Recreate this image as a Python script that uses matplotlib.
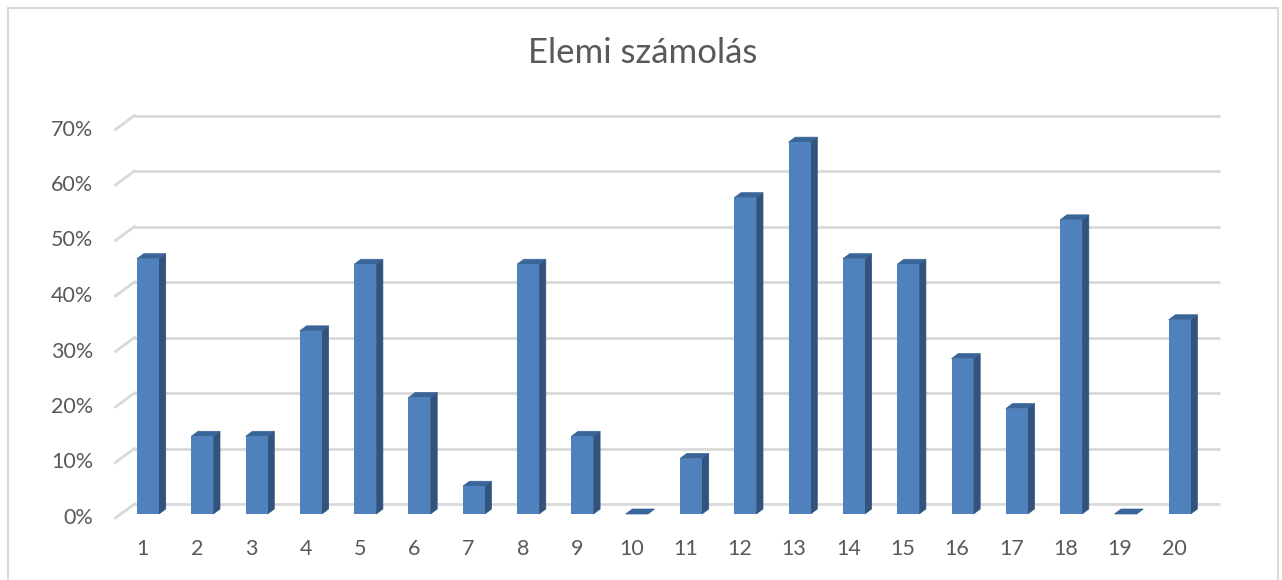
import matplotlib.pyplot as plt
from matplotlib.patches import Polygon, Rectangle

categories = [str(i) for i in range(1, 21)]
values = [46, 14, 14, 33, 45, 21, 5, 45, 14, 0, 10, 57, 67, 46, 45, 28, 19, 53, 0, 35]
y_ticks = [0, 10, 20, 30, 40, 50, 60, 70]
title = "Elemi számolás"

W, H = 1282, 580
fig = plt.figure(figsize=(W / 100, H / 100), dpi=100)
ax = fig.add_axes([0, 0, 1, 1])

# pixel scale of the fake 3d projection
sx = 54.3    # px per category
sy = 5.55    # px per percent
x0_px, y0_px = 148, 514   # centre of bar 1 front, zero level of bar fronts

ax.set_xlim(1 - x0_px / sx, 1 + (W - x0_px) / sx)
ax.set_ylim((y0_px - H) / sy, y0_px / sy)
ax.axis("off")

def off(dx_px, dy_px):
    return dx_px / sx, dy_px / sy

bdx, bdy = off(6.7, 5)       # bar depth
wdx, wdy = off(13.6, 10)     # back wall
fdx, fdy = off(-5.4, -4)     # floor front edge
half = 11 / sx

front_c = "#4F81BD"
side_c = "#31537D"
top_c = "#3A6598"
grid_c = "#D9D9D9"
text_c = "#595959"
font = "Lato"

left, right = 0.5, len(categories) + 0.5
for t in y_ticks:
    ax.plot([left + wdx, right + wdx], [t + wdy, t + wdy], color=grid_c, lw=2, zorder=1,
            solid_capstyle="butt")
    ax.plot([left + fdx, left + wdx], [t + fdy, t + wdy], color=grid_c, lw=2, zorder=1)
    ax.text(left + fdx - 22 / sx, t + fdy, f"{t}%", ha="right", va="center",
            fontsize=15.5, color=text_c, family=font)

for i, (lab, v) in enumerate(zip(categories, values)):
    c = i + 1
    xa, xb = c - half, c + half
    ax.add_patch(Polygon([(xb, 0), (xb + bdx, bdy), (xb + bdx, v + bdy), (xb, v)],
                         closed=True, facecolor=side_c, edgecolor=side_c, lw=0.5, zorder=3))
    ax.add_patch(Polygon([(xa, v), (xb, v), (xb + bdx, v + bdy), (xa + bdx, v + bdy)],
                         closed=True, facecolor=top_c, edgecolor=top_c, lw=0.5, zorder=3))
    ax.add_patch(Rectangle((xa, 0), xb - xa, v, facecolor=front_c, edgecolor="none", zorder=4))
    ax.text(c + fdx, -35 / sy, lab, ha="center", va="center", fontsize=15.5,
            color=text_c, family=font)

fig.text(643 / W, 1 - 53 / H, title, ha="center", va="center", fontsize=25,
         color=text_c, family=font)

# chart border
fig.add_artist(Rectangle((8 / W, -0.1), 1270 / W, 1.1 - 8 / H, transform=fig.transFigure,
                         fill=False, edgecolor=grid_c, lw=1.5))

fig.savefig("out.png", dpi=100)
